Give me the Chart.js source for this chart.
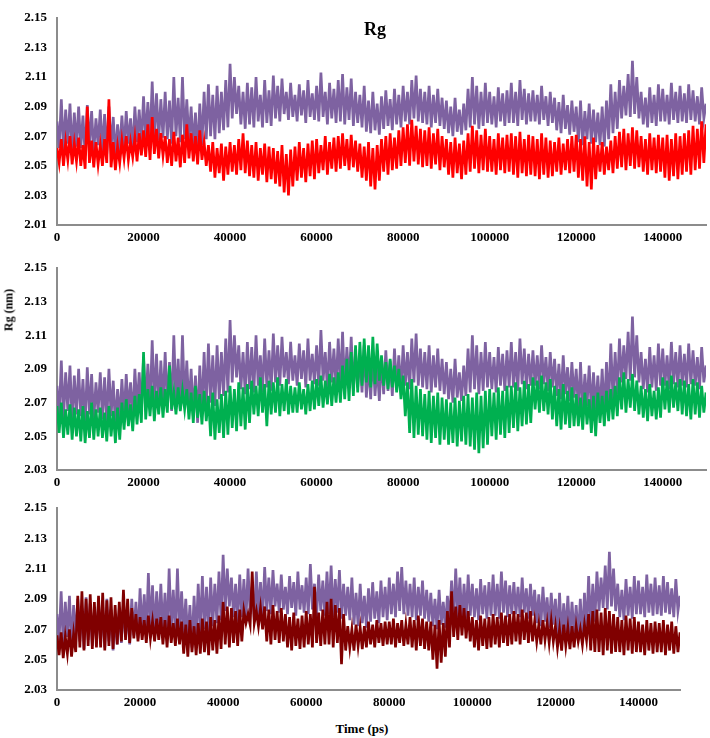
<!DOCTYPE html>
<html>
<head>
<meta charset="utf-8">
<script src="https://cdn.jsdelivr.net/npm/chart.js@4.4.0/dist/chart.umd.min.js"></script>
<style>
  body { margin: 0; background: #fff; width: 710px; height: 738px; position: relative; overflow: hidden;
         font-family: "Liberation Serif", "Times New Roman", serif; }
  .panel { position: absolute; left: 0; width: 710px; }
  .lbl { position: absolute; color: #000; font-weight: bold; white-space: nowrap; transform: translate(-50%, -50%); }
</style>
</head>
<body>
<div class="panel" style="top:0;height:250px"><canvas id="c1"></canvas></div>
<div class="panel" style="top:250px;height:240px"><canvas id="c2"></canvas></div>
<div class="panel" style="top:490px;height:225px"><canvas id="c3"></canvas></div>
<div class="lbl" style="left:375px;top:29px;font-size:18px">Rg</div>
<div class="lbl" style="left:9px;top:310px;font-size:12px;transform:translate(-50%,-50%) rotate(-90deg)">Rg (nm)</div>
<div class="lbl" style="left:362px;top:729px;font-size:13px">Time (ps)</div>
<script>
/* Rg traces, one sample every 500 ps, 0 .. 150000 ps (values in nm) */
const STEP_PS = 500;

// reference trace, shown in all three panels
const rgPurple = [
  2.080, 2.062, 2.095, 2.060, 2.088, 2.065, 2.092, 2.058, 2.086, 2.063,
  2.090, 2.062, 2.084, 2.057, 2.091, 2.063, 2.087, 2.059, 2.082, 2.064,
  2.088, 2.060, 2.085, 2.058, 2.090, 2.062, 2.083, 2.056, 2.078, 2.060,
  2.084, 2.061, 2.087, 2.065, 2.082, 2.060, 2.090, 2.066, 2.088, 2.064,
  2.097, 2.068, 2.093, 2.066, 2.107, 2.070, 2.099, 2.067, 2.095, 2.069,
  2.100, 2.068, 2.094, 2.065, 2.110, 2.070, 2.096, 2.066, 2.110, 2.068,
  2.095, 2.066, 2.090, 2.062, 2.086, 2.058, 2.092, 2.064, 2.100, 2.068,
  2.105, 2.070, 2.098, 2.068, 2.104, 2.072, 2.100, 2.074, 2.108, 2.076,
  2.119, 2.082, 2.110, 2.085, 2.104, 2.078, 2.100, 2.075, 2.106, 2.078,
  2.103, 2.076, 2.110, 2.080, 2.098, 2.076, 2.108, 2.079, 2.101, 2.077,
  2.111, 2.082, 2.104, 2.080, 2.109, 2.085, 2.100, 2.081, 2.106, 2.083,
  2.098, 2.080, 2.105, 2.084, 2.101, 2.079, 2.108, 2.083, 2.099, 2.081,
  2.104, 2.080, 2.113, 2.083, 2.100, 2.078, 2.106, 2.082, 2.102, 2.079,
  2.108, 2.080, 2.112, 2.078, 2.103, 2.081, 2.109, 2.077, 2.100, 2.079,
  2.098, 2.076, 2.104, 2.073, 2.094, 2.072, 2.100, 2.074, 2.092, 2.071,
  2.097, 2.075, 2.101, 2.077, 2.095, 2.074, 2.102, 2.078, 2.098, 2.076,
  2.104, 2.080, 2.100, 2.078, 2.108, 2.082, 2.111, 2.080, 2.102, 2.079,
  2.100, 2.078, 2.104, 2.076, 2.098, 2.079, 2.102, 2.077, 2.096, 2.075,
  2.094, 2.072, 2.090, 2.070, 2.096, 2.073, 2.088, 2.071, 2.092, 2.074,
  2.102, 2.076, 2.110, 2.078, 2.104, 2.075, 2.100, 2.077, 2.106, 2.079,
  2.100, 2.078, 2.097, 2.076, 2.103, 2.080, 2.099, 2.077, 2.101, 2.079,
  2.106, 2.079, 2.100, 2.077, 2.108, 2.081, 2.102, 2.078, 2.099, 2.080,
  2.101, 2.080, 2.098, 2.078, 2.104, 2.081, 2.097, 2.077, 2.100, 2.079,
  2.096, 2.074, 2.093, 2.072, 2.098, 2.075, 2.091, 2.071, 2.094, 2.073,
  2.090, 2.066, 2.094, 2.064, 2.087, 2.068, 2.092, 2.065, 2.088, 2.066,
  2.086, 2.064, 2.090, 2.063, 2.094, 2.068, 2.105, 2.072, 2.100, 2.075,
  2.108, 2.082, 2.104, 2.084, 2.112, 2.083, 2.121, 2.085, 2.110, 2.082,
  2.100, 2.078, 2.096, 2.076, 2.103, 2.079, 2.098, 2.077, 2.105, 2.080,
  2.102, 2.080, 2.098, 2.078, 2.106, 2.081, 2.100, 2.079, 2.104, 2.080,
  2.099, 2.079, 2.105, 2.081, 2.101, 2.080, 2.097, 2.078, 2.103, 2.082,
  2.092
];

const rgRed = [
  2.062, 2.052, 2.068, 2.050, 2.066, 2.054, 2.070, 2.051, 2.065, 2.053,
  2.069, 2.050, 2.064, 2.048, 2.090, 2.052, 2.067, 2.049, 2.066, 2.051,
  2.064, 2.050, 2.068, 2.052, 2.095, 2.049, 2.066, 2.047, 2.063, 2.052,
  2.067, 2.055, 2.070, 2.054, 2.066, 2.056, 2.069, 2.053, 2.072, 2.057,
  2.074, 2.056, 2.078, 2.054, 2.083, 2.058, 2.075, 2.055, 2.072, 2.057,
  2.070, 2.052, 2.068, 2.050, 2.073, 2.053, 2.069, 2.049, 2.071, 2.052,
  2.078, 2.055, 2.072, 2.053, 2.070, 2.051, 2.074, 2.054, 2.066, 2.050,
  2.064, 2.046, 2.066, 2.042, 2.062, 2.045, 2.065, 2.040, 2.063, 2.044,
  2.066, 2.046, 2.064, 2.044, 2.068, 2.047, 2.072, 2.045, 2.067, 2.043,
  2.064, 2.042, 2.066, 2.040, 2.062, 2.044, 2.065, 2.039, 2.063, 2.041,
  2.062, 2.038, 2.060, 2.036, 2.064, 2.032, 2.058, 2.030, 2.061, 2.036,
  2.063, 2.040, 2.066, 2.042, 2.062, 2.039, 2.065, 2.043, 2.067, 2.041,
  2.068, 2.045, 2.064, 2.047, 2.070, 2.044, 2.066, 2.048, 2.069, 2.046,
  2.070, 2.048, 2.072, 2.050, 2.068, 2.047, 2.071, 2.049, 2.067, 2.046,
  2.065, 2.042, 2.063, 2.040, 2.066, 2.036, 2.062, 2.034, 2.064, 2.040,
  2.068, 2.046, 2.070, 2.044, 2.072, 2.047, 2.069, 2.048, 2.074, 2.050,
  2.076, 2.052, 2.078, 2.050, 2.081, 2.053, 2.077, 2.051, 2.075, 2.049,
  2.074, 2.050, 2.076, 2.048, 2.072, 2.051, 2.075, 2.047, 2.070, 2.049,
  2.068, 2.044, 2.066, 2.042, 2.069, 2.045, 2.065, 2.041, 2.067, 2.044,
  2.072, 2.046, 2.077, 2.048, 2.074, 2.045, 2.071, 2.047, 2.075, 2.046,
  2.070, 2.046, 2.068, 2.044, 2.072, 2.047, 2.069, 2.045, 2.071, 2.046,
  2.072, 2.044, 2.070, 2.042, 2.073, 2.045, 2.068, 2.043, 2.071, 2.044,
  2.070, 2.043, 2.068, 2.041, 2.072, 2.044, 2.069, 2.042, 2.067, 2.043,
  2.066, 2.046, 2.069, 2.044, 2.065, 2.047, 2.068, 2.045, 2.070, 2.046,
  2.071, 2.042, 2.068, 2.040, 2.070, 2.036, 2.066, 2.034, 2.069, 2.041,
  2.064, 2.046, 2.066, 2.044, 2.063, 2.047, 2.067, 2.045, 2.070, 2.048,
  2.073, 2.049, 2.075, 2.047, 2.072, 2.050, 2.076, 2.048, 2.074, 2.049,
  2.070, 2.046, 2.068, 2.044, 2.072, 2.047, 2.069, 2.045, 2.071, 2.046,
  2.069, 2.042, 2.071, 2.040, 2.068, 2.043, 2.072, 2.041, 2.070, 2.044,
  2.072, 2.046, 2.074, 2.044, 2.077, 2.047, 2.075, 2.048, 2.080, 2.052,
  2.078
];

const rgGreen = [
  2.068, 2.052, 2.070, 2.049, 2.066, 2.051, 2.069, 2.048, 2.067, 2.050,
  2.066, 2.047, 2.068, 2.046, 2.065, 2.049, 2.070, 2.048, 2.066, 2.050,
  2.067, 2.049, 2.064, 2.047, 2.068, 2.050, 2.065, 2.046, 2.067, 2.048,
  2.070, 2.054, 2.072, 2.056, 2.069, 2.053, 2.074, 2.057, 2.075, 2.058,
  2.100, 2.060, 2.078, 2.062, 2.080, 2.059, 2.077, 2.063, 2.079, 2.061,
  2.078, 2.064, 2.092, 2.066, 2.076, 2.063, 2.079, 2.065, 2.077, 2.066,
  2.078, 2.060, 2.076, 2.058, 2.080, 2.061, 2.075, 2.057, 2.077, 2.059,
  2.074, 2.050, 2.076, 2.048, 2.072, 2.052, 2.075, 2.049, 2.077, 2.051,
  2.080, 2.055, 2.078, 2.053, 2.082, 2.056, 2.079, 2.054, 2.081, 2.058,
  2.083, 2.063, 2.080, 2.062, 2.085, 2.064, 2.081, 2.056, 2.083, 2.063,
  2.082, 2.064, 2.085, 2.062, 2.081, 2.065, 2.084, 2.063, 2.080, 2.064,
  2.079, 2.064, 2.082, 2.066, 2.078, 2.063, 2.081, 2.065, 2.083, 2.066,
  2.084, 2.068, 2.086, 2.067, 2.083, 2.069, 2.087, 2.068, 2.085, 2.070,
  2.088, 2.070, 2.092, 2.072, 2.096, 2.071, 2.100, 2.074, 2.104, 2.076,
  2.106, 2.080, 2.108, 2.082, 2.104, 2.079, 2.109, 2.081, 2.105, 2.083,
  2.098, 2.080, 2.094, 2.078, 2.096, 2.079, 2.092, 2.076, 2.090, 2.072,
  2.086, 2.062, 2.082, 2.052, 2.084, 2.049, 2.080, 2.051, 2.078, 2.050,
  2.075, 2.048, 2.077, 2.046, 2.074, 2.049, 2.076, 2.045, 2.073, 2.048,
  2.072, 2.045, 2.070, 2.046, 2.073, 2.044, 2.071, 2.047, 2.074, 2.045,
  2.075, 2.044, 2.073, 2.042, 2.076, 2.040, 2.074, 2.043, 2.077, 2.045,
  2.078, 2.050, 2.076, 2.048, 2.079, 2.051, 2.077, 2.049, 2.080, 2.052,
  2.080, 2.055, 2.082, 2.053, 2.079, 2.056, 2.083, 2.057, 2.081, 2.058,
  2.085, 2.066, 2.083, 2.064, 2.086, 2.065, 2.082, 2.063, 2.084, 2.060,
  2.080, 2.056, 2.078, 2.054, 2.081, 2.057, 2.077, 2.055, 2.079, 2.056,
  2.075, 2.056, 2.073, 2.054, 2.076, 2.057, 2.072, 2.052, 2.074, 2.050,
  2.076, 2.058, 2.074, 2.056, 2.077, 2.059, 2.078, 2.060, 2.080, 2.062,
  2.085, 2.066, 2.088, 2.064, 2.084, 2.067, 2.087, 2.065, 2.083, 2.063,
  2.080, 2.061, 2.078, 2.059, 2.081, 2.062, 2.077, 2.060, 2.079, 2.061,
  2.085, 2.066, 2.083, 2.064, 2.086, 2.067, 2.082, 2.065, 2.084, 2.063,
  2.083, 2.062, 2.081, 2.060, 2.084, 2.063, 2.082, 2.061, 2.080, 2.064,
  2.076
];

const rgDarkRed = [
  2.066, 2.053, 2.068, 2.051, 2.065, 2.054, 2.070, 2.052, 2.067, 2.055,
  2.092, 2.058, 2.095, 2.056, 2.090, 2.059, 2.093, 2.057, 2.088, 2.058,
  2.092, 2.058, 2.094, 2.056, 2.089, 2.059, 2.091, 2.057, 2.086, 2.060,
  2.088, 2.062, 2.096, 2.063, 2.090, 2.061, 2.084, 2.064, 2.080, 2.062,
  2.078, 2.063, 2.076, 2.061, 2.079, 2.064, 2.075, 2.062, 2.077, 2.063,
  2.078, 2.060, 2.076, 2.058, 2.079, 2.061, 2.074, 2.059, 2.077, 2.060,
  2.075, 2.054, 2.073, 2.052, 2.076, 2.055, 2.072, 2.053, 2.074, 2.054,
  2.077, 2.055, 2.075, 2.053, 2.078, 2.056, 2.076, 2.054, 2.079, 2.057,
  2.088, 2.060, 2.085, 2.058, 2.084, 2.061, 2.082, 2.059, 2.083, 2.062,
  2.082, 2.074, 2.080, 2.073, 2.108, 2.074, 2.082, 2.072, 2.084, 2.070,
  2.085, 2.062, 2.083, 2.060, 2.086, 2.063, 2.082, 2.061, 2.084, 2.062,
  2.080, 2.058, 2.078, 2.056, 2.081, 2.059, 2.077, 2.057, 2.079, 2.058,
  2.082, 2.060, 2.080, 2.058, 2.098, 2.061, 2.081, 2.059, 2.083, 2.060,
  2.088, 2.060, 2.090, 2.058, 2.086, 2.061, 2.084, 2.047, 2.080, 2.056,
  2.072, 2.058, 2.070, 2.056, 2.073, 2.059, 2.071, 2.057, 2.072, 2.058,
  2.075, 2.060, 2.073, 2.058, 2.076, 2.061, 2.074, 2.059, 2.075, 2.060,
  2.075, 2.060, 2.077, 2.058, 2.074, 2.061, 2.076, 2.059, 2.073, 2.060,
  2.078, 2.058, 2.076, 2.056, 2.079, 2.059, 2.077, 2.057, 2.075, 2.056,
  2.075, 2.050, 2.073, 2.044, 2.076, 2.048, 2.074, 2.052, 2.082, 2.058,
  2.095, 2.065, 2.085, 2.063, 2.086, 2.066, 2.084, 2.064, 2.082, 2.062,
  2.078, 2.058, 2.076, 2.056, 2.079, 2.059, 2.077, 2.057, 2.078, 2.058,
  2.080, 2.060, 2.078, 2.058, 2.081, 2.061, 2.079, 2.059, 2.080, 2.060,
  2.082, 2.062, 2.080, 2.060, 2.083, 2.063, 2.081, 2.061, 2.082, 2.062,
  2.075, 2.062, 2.073, 2.060, 2.076, 2.063, 2.074, 2.061, 2.075, 2.062,
  2.072, 2.058, 2.070, 2.056, 2.073, 2.059, 2.071, 2.057, 2.072, 2.058,
  2.072, 2.062, 2.070, 2.060, 2.073, 2.063, 2.080, 2.056, 2.082, 2.055,
  2.083, 2.055, 2.081, 2.053, 2.084, 2.056, 2.082, 2.054, 2.080, 2.055,
  2.078, 2.055, 2.076, 2.053, 2.079, 2.056, 2.077, 2.054, 2.078, 2.055,
  2.075, 2.055, 2.073, 2.053, 2.076, 2.056, 2.074, 2.054, 2.075, 2.055,
  2.074, 2.055, 2.076, 2.053, 2.073, 2.056, 2.075, 2.054, 2.072, 2.055,
  2.068
];

const xTickValues = [0, 20000, 40000, 60000, 80000, 100000, 120000, 140000];
const X_MAX = 150000;

const PURPLE = '#7E62A1';
const TICK_FONT = { family: '"Liberation Serif", "Times New Roman", serif', size: 13, weight: 'bold' };

function toPoints(arr) {
  return arr.map((v, i) => ({ x: i * STEP_PS, y: v }));
}

function panel(id, series, color, yMin, pad, xAxisH) {
  const axisBorder = { display: true, color: '#8c8c8c', width: 2 };
  return new Chart(document.getElementById(id), {
    type: 'line',
    data: {
      datasets: [
        { data: toPoints(series), borderColor: color, borderWidth: 2.7 },
        { data: toPoints(rgPurple), borderColor: PURPLE, borderWidth: 2.7 },
      ],
    },
    options: {
      responsive: true,
      maintainAspectRatio: false,
      animation: false,
      events: [],
      layout: { padding: pad },
      elements: { point: { radius: 0 }, line: { tension: 0, borderJoinStyle: 'miter' } },
      plugins: { legend: { display: false }, tooltip: { enabled: false } },
      scales: {
        x: {
          type: 'linear', min: 0, max: X_MAX,
          afterBuildTicks: (s) => { s.ticks = xTickValues.map((v) => ({ value: v })); },
          afterFit: (s) => { s.height = xAxisH; },
          grid: { display: false, drawTicks: false },
          border: axisBorder,
          ticks: { color: '#000', font: TICK_FONT, padding: 5, maxRotation: 0, callback: (v) => String(v) },
        },
        y: {
          min: yMin, max: 2.15,
          ticks: { stepSize: 0.02, color: '#000', font: TICK_FONT, padding: 10, callback: (v) => v.toFixed(2) },
          afterFit: (s) => { s.width = 57; },
          grid: { display: false, drawTicks: false },
          border: axisBorder,
        },
      },
    },
  });
}

panel('c1', rgRed, '#FF0000', 2.01, { top: 14, right: 4, left: 0, bottom: 0 }, 25);
panel('c2', rgGreen, '#00B050', 2.03, { top: 10, right: 4, left: 0, bottom: 0 }, 20);
panel('c3', rgDarkRed, '#800000', 2.03, { top: 16, right: 30, left: 0, bottom: 0 }, 25);
</script>
</body>
</html>
